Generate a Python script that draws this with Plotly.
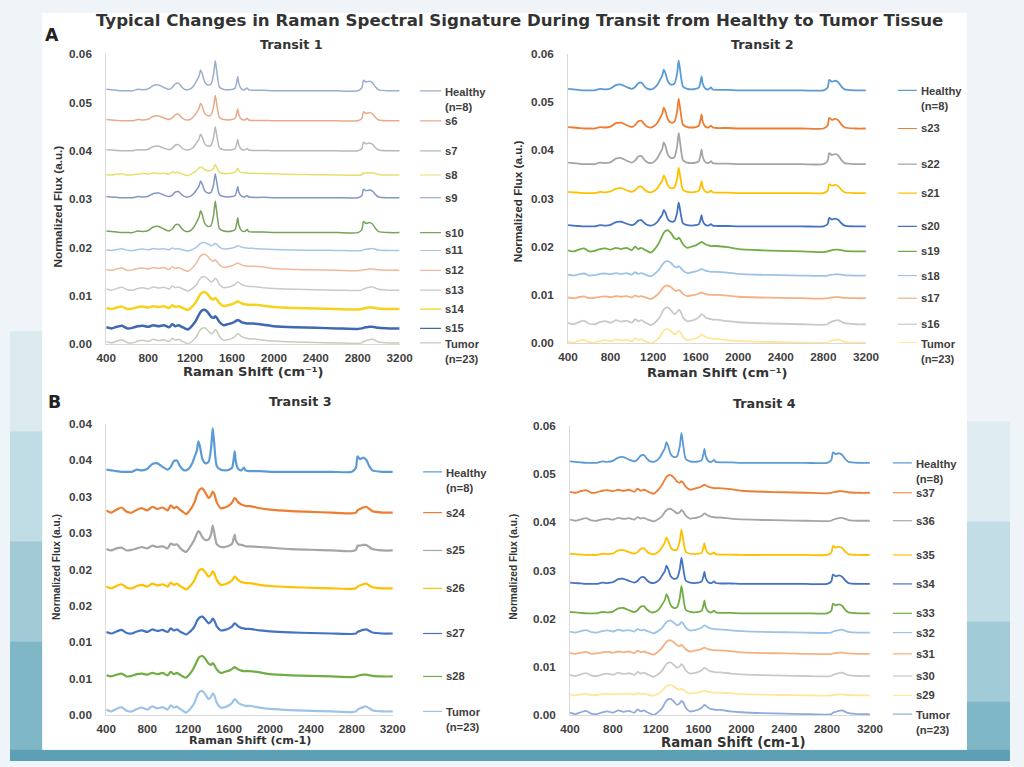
import plotly.graph_objects as go

W, H = 1024, 767

# ---------------- data ----------------
RAMAN_SHIFT = [400, 450, 500, 550, 600, 650, 700, 750, 800, 850, 900, 950, 1000,
               1030, 1060, 1090, 1120, 1150, 1180, 1210, 1240,
               1265, 1285, 1300, 1315, 1340, 1370, 1400, 1425, 1440, 1455, 1480,
               1520, 1560, 1600, 1630, 1645, 1655, 1665, 1690, 1720, 1745, 1760, 1800,
               1900, 2000, 2200, 2400, 2600, 2800,
               2840, 2855, 2880, 2910, 2940, 2970, 3000, 3100, 3200]

# spectral shapes above each curve's own baseline (units of 1e-3 normalized flux)
HEALTHY_PROFILE = [0.3, 0.2, 0.1, 0.0, 0.0, 0.0, 0.3, 0.2, 0.4, 1.1, 1.2, 0.7, 0.3,
                   0.7, 1.5, 1.6, 0.8, 0.3, 0.2, 0.5, 1.2,
                   2.2, 3.0, 4.3, 3.6, 1.8, 1.2, 1.4, 3.5, 6.2, 4.0, 0.8,
                   0.3, 0.2, 0.3, 0.6, 1.8, 2.9, 1.5, 0.4, 0.2, 0.6, 0.2, 0.1,
                   0.1, 0.0, 0.0, 0.0, 0.0, 0.0,
                   0.6, 2.2, 1.8, 2.0, 1.7, 0.8, 0.2, 0.0, 0.0]
TUMOR_PROFILE = [0.3, 0.0, 0.4, 0.7, 0.1, 0.0, 0.4, 0.6, 0.3, 0.8, 0.5, 0.7, 0.3,
                 1.0, 0.6, 0.8, 0.4, 0.1, -0.2, 0.2, 0.8,
                 1.5, 2.4, 2.9, 3.2, 3.3, 2.7, 2.0, 2.4, 2.9, 2.6, 1.4,
                 0.6, 0.7, 1.0, 1.4, 1.8, 2.0, 1.9, 1.4, 1.1, 1.0, 0.9, 0.9,
                 0.6, 0.4, 0.2, 0.1, 0.0, -0.1,
                 0.0, 0.3, 0.5, 0.7, 0.8, 0.5, 0.2, 0.0, 0.0]
PROTEIN_PROFILE = [0.2, 0.0, 0.3, 0.5, 0.0, 0.1, 0.4, 0.5, 0.3, 0.6, 0.4, 0.6, 0.2,
                   0.8, 0.4, 0.6, 0.3, 0.0, -0.2, 0.3, 1.0,
                   1.8, 2.6, 3.1, 3.4, 3.5, 3.0, 2.2, 2.0, 2.3, 2.0, 1.2,
                   0.6, 0.8, 1.0, 1.3, 1.5, 1.6, 1.5, 1.2, 1.0, 0.9, 0.9, 0.9,
                   0.7, 0.4, 0.2, 0.1, 0.0, -0.1,
                   0.0, 0.1, 0.2, 0.3, 0.3, 0.2, 0.1, 0.0, 0.0]
MIXED_PROFILE = [0.2, 0.0, 0.3, 0.4, 0.0, 0.1, 0.3, 0.5, 0.3, 0.7, 0.5, 0.6, 0.3,
                 1.0, 0.8, 0.9, 0.4, 0.0, -0.2, 0.3, 1.0,
                 1.7, 2.4, 2.8, 2.6, 1.9, 1.5, 1.6, 2.4, 3.6, 2.6, 0.9,
                 0.5, 0.5, 0.7, 1.0, 1.8, 2.3, 1.5, 0.9, 0.8, 0.7, 0.6, 0.6,
                 0.5, 0.4, 0.2, 0.1, 0.0, -0.1,
                 0.1, 0.7, 0.7, 0.8, 0.8, 0.5, 0.2, 0.0, 0.0]
PROFILES = {"H": HEALTHY_PROFILE, "T": TUMOR_PROFILE, "P": PROTEIN_PROFILE, "M": MIXED_PROFILE}

X_TICKS = [400, 800, 1200, 1600, 2000, 2400, 2800, 3200]
Y_TICKS_06 = [0.00, 0.01, 0.02, 0.03, 0.04, 0.05, 0.06]
Y_TICKTEXT_06 = ["0.00", "0.01", "0.02", "0.03", "0.04", "0.05", "0.06"]
Y_TICKS_04 = [0.000, 0.005, 0.010, 0.015, 0.020, 0.025, 0.030, 0.035, 0.040]
Y_TICKTEXT_04 = ["0.00", "0.01", "0.01", "0.02", "0.02", "0.03", "0.03", "0.04", "0.04"]

# Transit 1
T1_NAMES = ["Healthy<br>(n=8)", "s6", "s7", "s8", "s9", "s10", "s11", "s12", "s13", "s14", "s15", "Tumor<br>(n=23)"]
T1_BASE = [52.4, 46.2, 40.0, 35.0, 30.3, 23.1, 19.4, 15.3, 11.2, 7.3, 3.3, 0.3]
T1_SHAPE = ["H", "H", "H", "M", "H", "H", "T", "P", "T", "P", "P", "T"]
T1_SCALE = [1.0, 0.85, 0.8, 0.6, 0.8, 1.05, 0.5, 0.95, 0.85, 1.0, 1.1, 0.95]
T1_COLORS = ["#9aaecb", "#e9a98a", "#b8b8b8", "#e6df6e", "#8397c2", "#76a25a",
             "#a9c5e6", "#f2b89a", "#c9c9c9", "#f5d31c", "#3f68b0", "#c6ceba"]

# Transit 2
T2_NAMES = ["Healthy<br>(n=8)", "s23", "s22", "s21", "s20", "s19", "s18", "s17", "s16", "Tumor<br>(n=23)"]
T2_BASE = [52.4, 44.5, 37.1, 31.1, 24.2, 19.0, 14.0, 9.3, 3.9, 0.1]
T2_SHAPE = ["H", "H", "H", "H", "H", "P", "P", "P", "T", "T"]
T2_SCALE = [1.0, 1.0, 1.05, 0.85, 0.8, 1.25, 0.85, 0.75, 1.05, 0.85]
T2_COLORS = ["#5b9bd5", "#ed7d31", "#a5a5a5", "#ffc000", "#4472c4", "#70ad47",
             "#9dc3e6", "#f4b183", "#c9c9c9", "#ffe699"]

# Transit 3
T3_NAMES = ["Healthy<br>(n=8)", "s24", "s25", "s26", "s27", "s28", "Tumor<br>(n=23)"]
T3_BASE = [33.4, 27.8, 22.6, 17.4, 11.2, 5.3, 0.5]
T3_SHAPE = ["H", "T", "M", "T", "T", "P", "T"]
T3_SCALE = [0.97, 1.0, 0.95, 0.8, 0.7, 0.8, 0.85]
T3_COLORS = ["#5b9bd5", "#ed7d31", "#a5a5a5", "#ffc000", "#4472c4", "#70ad47", "#9dc3e6"]

# Transit 4
T4_NAMES = ["Healthy<br>(n=8)", "s37", "s36", "s35", "s34", "s33", "s32", "s31", "s30", "s29", "Tumor<br>(n=23)"]
T4_BASE = [52.3, 46.1, 40.3, 33.2, 27.2, 21.1, 17.1, 12.7, 8.1, 4.1, 0.2]
T4_SHAPE = ["H", "P", "T", "H", "H", "H", "T", "P", "T", "P", "T"]
T4_SCALE = [1.0, 1.05, 0.75, 0.85, 0.88, 0.92, 0.75, 0.8, 0.85, 0.6, 0.95]
T4_COLORS = ["#5b9bd5", "#ed7d31", "#a5a5a5", "#ffc000", "#4472c4", "#70ad47",
             "#9dc3e6", "#f4b183", "#c9c9c9", "#ffe699", "#8faadc"]

for p in PROFILES.values():
    assert len(p) == len(RAMAN_SHIFT)

# ---------------- layout helpers ----------------
# the photographed page shows the figure slightly inset; map target pixels accordingly
SX, OX = 0.977, 9.7
SY, OY = 0.982, 6.0
FS = 1.02  # font compensation

def px(x):
    return ((x - OX) / SX) / W

def py(y):
    return 1 - ((y - OY) / SY) / H

TXT = "#404040"
FONT = "Liberation Sans, Arial, sans-serif"
WIDE = "DejaVu Sans, Verdana, sans-serif"
NARROW = "Liberation Sans Narrow, Liberation Sans, Arial"

fig = go.Figure()

PANELS = [
    dict(names=T1_NAMES, base=T1_BASE, shape=T1_SHAPE, scale=T1_SCALE, colors=T1_COLORS, lw=1.5,
         xpix=(106, 399.5), ypix=(53, 343), ymax=0.06, yt=Y_TICKS_06, ytt=Y_TICKTEXT_06,
         leg=(420, 441, 443), title="Transit 1", tpos=(291, 43),
         xtitle="Raman Shift (cm⁻¹)", xtpos=(253, 370), xtsize=12.8,
         ytpos=(57, 205), ytsize=11.5, ytfont=FONT),
    dict(names=T2_NAMES, base=T2_BASE, shape=T2_SHAPE, scale=T2_SCALE, colors=T2_COLORS, lw=1.8,
         xpix=(568, 866), ypix=(52.7, 341.7), ymax=0.06, yt=Y_TICKS_06, ytt=Y_TICKTEXT_06,
         leg=(898, 917, 919), title="Transit 2", tpos=(763, 43),
         xtitle="Raman Shift (cm⁻¹)", xtpos=(718, 371), xtsize=12.8,
         ytpos=(517, 200), ytsize=11.5, ytfont=FONT),
    dict(names=T3_NAMES, base=T3_BASE, shape=T3_SHAPE, scale=T3_SCALE, colors=T3_COLORS, lw=2.2,
         xpix=(106, 392.7), ypix=(422.3, 713.3), ymax=0.04, yt=Y_TICKS_04, ytt=Y_TICKTEXT_04,
         leg=(423, 442, 444), title="Transit 3", tpos=(300, 400),
         xtitle="Raman Shift (cm-1)", xtpos=(250, 739), xtsize=11,
         ytpos=(56, 565), ytsize=10, ytfont=NARROW),
    dict(names=T4_NAMES, base=T4_BASE, shape=T4_SHAPE, scale=T4_SCALE, colors=T4_COLORS, lw=1.8,
         xpix=(570, 870), ypix=(424.3, 713.3), ymax=0.06, yt=Y_TICKS_06, ytt=Y_TICKTEXT_06,
         leg=(893, 912, 914), title="Transit 4", tpos=(765, 402),
         xtitle="Raman Shift (cm-1)", xtpos=(734, 741), xtsize=13,
         ytpos=(514, 565), ytsize=10, ytfont=NARROW),
]

shapes = []
annotations = []

# slide background decoration
shapes.append(dict(type="rect", xref="paper", yref="paper", x0=0, x1=1, y0=0, y1=1,
                   fillcolor="#eef4f7", line_width=0, layer="below"))
for ytop, col, op in [(330, "#cfe3ea", 0.6), (430, "#a9cfda", 0.55),
                      (540, "#86bccb", 0.55), (640, "#6aaabd", 0.6)]:
    shapes.append(dict(type="rect", xref="paper", yref="paper", x0=0, x1=px(42),
                       y0=0, y1=py(ytop), fillcolor=col, opacity=op, line_width=0, layer="below"))
for ytop, col, op in [(420, "#d6e8ee", 0.6), (520, "#a9cfda", 0.55),
                      (620, "#86bccb", 0.55), (700, "#6aaabd", 0.6)]:
    shapes.append(dict(type="rect", xref="paper", yref="paper", x0=px(967), x1=1,
                       y0=0, y1=py(ytop), fillcolor=col, opacity=op, line_width=0, layer="below"))
shapes.append(dict(type="rect", xref="paper", yref="paper", x0=0, x1=1, y0=0, y1=py(748),
                   fillcolor="#5d9fb4", line_width=0, layer="below"))
shapes.append(dict(type="rect", xref="paper", yref="paper", x0=px(42), x1=px(967),
                   y0=py(748), y1=py(12), fillcolor="#ffffff", line_width=0, layer="below"))

layout_axes = {}
for k, P in enumerate(PANELS, start=1):
    xa = "x" if k == 1 else f"x{k}"
    ya = "y" if k == 1 else f"y{k}"
    layout_axes["xaxis" if k == 1 else f"xaxis{k}"] = dict(
        domain=[px(P["xpix"][0]), px(P["xpix"][1])], range=[400, 3200], anchor=ya,
        tickvals=X_TICKS, ticks="", showgrid=False, zeroline=False,
        showline=True, linecolor="#d9d9d9", linewidth=1, ticklabelstandoff=3,
        tickfont=dict(family=FONT, size=11.5 * FS, color=TXT, weight="bold"))
    layout_axes["yaxis" if k == 1 else f"yaxis{k}"] = dict(
        domain=[py(P["ypix"][1]), py(P["ypix"][0])], range=[0, P["ymax"]], anchor=xa,
        tickvals=P["yt"], ticktext=P["ytt"], ticks="", showgrid=False, zeroline=False,
        showline=True, linecolor="#d9d9d9", linewidth=1, ticklabelstandoff=11,
        tickfont=dict(family=FONT, size=11.5 * FS, color=TXT, weight="bold"))

    for name, b, sh, sc, col in zip(P["names"], P["base"], P["shape"], P["scale"], P["colors"]):
        prof = PROFILES[sh]
        yv = [(b + sc * v) * 1e-3 for v in prof]
        lw = 2.5 if (k == 1 and name in ("s14", "s15")) else P["lw"]
        fig.add_trace(go.Scatter(x=RAMAN_SHIFT, y=yv, mode="lines", name=name.replace("<br>", " "),
                                 line=dict(color=col, width=lw, shape="spline", smoothing=0.6),
                                 xaxis=xa, yaxis=ya, showlegend=False, hoverinfo="skip"))
        yend = yv[-1]
        x0, x1, xt = P["leg"]
        shapes.append(dict(type="line", xref="paper", yref=ya, x0=px(x0), x1=px(x1),
                           y0=yend, y1=yend, line=dict(color=col, width=1.2)))
        two = "<br>" in name
        annotations.append(dict(xref="paper", yref=ya, x=px(xt), y=yend, text=name,
                                showarrow=False, xanchor="left",
                                yanchor="top" if two else "middle", yshift=7 if two else 0,
                                align="left",
                                font=dict(family=FONT, size=11 * FS, color=TXT, weight="bold")))

    annotations.append(dict(xref="paper", yref="paper", x=px(P["tpos"][0]), y=py(P["tpos"][1]),
                            text=P["title"], showarrow=False, xanchor="center", yanchor="middle",
                            font=dict(family=WIDE, size=12.5 * FS, color="#333333", weight="bold")))
    annotations.append(dict(xref="paper", yref="paper", x=px(P["xtpos"][0]), y=py(P["xtpos"][1]),
                            text=P["xtitle"], showarrow=False, xanchor="center", yanchor="middle",
                            font=dict(family=WIDE, size=P["xtsize"] * FS, color="#333333", weight="bold")))
    annotations.append(dict(xref="paper", yref="paper", x=px(P["ytpos"][0]), y=py(P["ytpos"][1]),
                            text="Normalized Flux (a.u.)", showarrow=False, textangle=-90,
                            xanchor="center", yanchor="middle",
                            font=dict(family=P["ytfont"], size=P["ytsize"] * FS, color="#333333",
                                      weight="bold")))

annotations.append(dict(xref="paper", yref="paper", x=px(519), y=py(19),
                        text="Typical Changes in Raman Spectral Signature During Transit from Healthy to Tumor Tissue",
                        showarrow=False, xanchor="center", yanchor="middle",
                        font=dict(family=WIDE, size=16.3 * FS, color="#333333", weight="bold")))
annotations.append(dict(xref="paper", yref="paper", x=px(52), y=py(34), text="A", showarrow=False,
                        xanchor="center", yanchor="middle",
                        font=dict(family=WIDE, size=17 * FS, color="#222222", weight="bold")))
annotations.append(dict(xref="paper", yref="paper", x=px(54), y=py(401), text="B", showarrow=False,
                        xanchor="center", yanchor="middle",
                        font=dict(family=WIDE, size=17 * FS, color="#222222", weight="bold")))

fig.update_layout(width=W, height=H, margin=dict(l=0, r=0, t=0, b=0),
                  paper_bgcolor="#eef4f7", plot_bgcolor="rgba(0,0,0,0)",
                  showlegend=False, shapes=shapes, annotations=annotations, **layout_axes)

POST = ("var bg='linear-gradient(to bottom,#eef4f7 0%,#eef4f7 42%,#a9cfda 65%,#6aaabd 88%,#5d9fb4 100%)';"
        "document.documentElement.style.margin='0';document.documentElement.style.overflow='hidden';"
        "document.documentElement.style.background=bg;"
        "document.body.style.margin='0';document.body.style.padding='0';document.body.style.overflow='hidden';"
        "document.body.style.background=bg;")

fig.write_html("out.html", config={"displayModeBar": False}, post_script=POST)
